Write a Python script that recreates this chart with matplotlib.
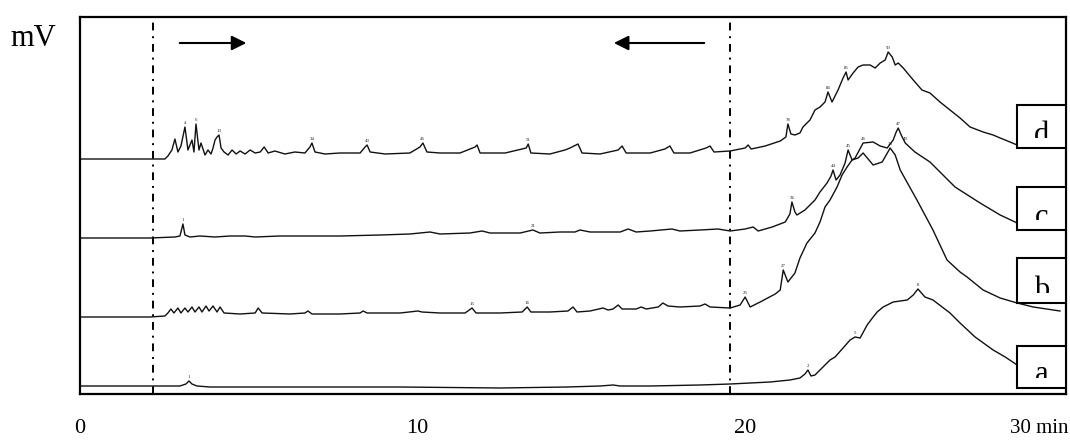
import matplotlib
matplotlib.use('Agg')
import matplotlib.pyplot as plt
from matplotlib.patches import Rectangle

plt.rcParams['font.family'] = ['Liberation Serif', 'DejaVu Serif']

# retention time (min) / detector signal (mV, arbitrary offset per trace)
d_time = [0, 1.20, 2.54, 2.63, 2.75, 2.84, 2.93, 3.02, 3.14, 3.23, 3.35, 3.41, 3.47, 3.56, 3.62,
          3.74, 3.83, 3.92, 3.98, 4.04, 4.10, 4.16, 4.22, 4.31, 4.43, 4.55, 4.67, 4.79, 4.94, 5.09,
          5.24, 5.39, 5.51, 5.63, 5.83, 6.13, 6.43, 6.73, 6.88, 6.94, 7.03, 7.33, 7.78, 8.38, 8.53,
          8.59, 8.68, 9.13, 9.87, 10.17, 10.26, 10.38, 10.77, 11.37, 11.82, 11.88, 11.97, 12.72,
          13.35, 13.41, 13.49, 14.06, 14.51, 14.66, 14.90, 15.02, 15.56, 16.10, 16.22, 16.34,
          17.06, 17.50, 17.65, 17.77, 18.25, 18.73, 18.85, 18.97, 19.45, 19.90, 19.99, 20.08,
          20.50, 20.95, 21.12, 21.18, 21.27, 21.39, 21.54, 21.63, 21.84, 21.99, 22.14, 22.29,
          22.38, 22.50, 22.68, 22.83, 22.92, 22.98, 23.13, 23.28, 23.43, 23.64, 23.79, 23.94,
          24.09, 24.18, 24.30, 24.39, 24.48, 24.63, 24.93, 25.19, 25.43, 25.73, 26.03, 26.33,
          26.63, 27.02, 27.32, 27.53, 27.68, 28.04]
d_signal = [235, 235, 235, 238, 244, 255, 242, 248, 267, 244, 254, 242, 270, 244, 251,
            239, 244, 240, 246, 254, 257, 259, 246, 242, 239, 244, 240, 243, 240, 244,
            241, 242, 247, 241, 243, 240, 242, 241, 247, 251, 242, 240, 241, 241, 247,
            249, 242, 240, 241, 247, 251, 242, 241, 241, 247, 249, 241, 241,
            246, 250, 241, 240, 244, 246, 250, 241, 240, 244, 248, 241,
            241, 245, 248, 241, 241, 246, 248, 242, 243, 246, 249, 245,
            248, 253, 257, 270, 260, 259, 261, 267, 274, 284, 287, 292,
            302, 292, 304, 316, 322, 314, 321, 327, 329, 329, 326, 331,
            334, 342, 337, 329, 331, 326, 314, 304, 301, 292, 284, 276,
            267, 262, 259, 256, 254, 249]

c_time = [0, 2.09, 2.84, 2.99, 3.08, 3.14, 3.29, 3.59, 4.04, 4.49, 4.94, 5.24, 5.98, 6.58, 7.18,
          7.78, 8.98, 9.87, 10.47, 10.77, 11.67, 12.03, 12.27, 13.17, 13.55, 13.76, 14.36, 14.81,
          14.96, 15.26, 16.16, 16.40, 16.64, 17.06, 17.71, 17.95, 18.55, 19.09, 19.45, 19.90,
          20.14, 20.29, 20.71, 21.10, 21.24, 21.30, 21.39, 21.45, 21.69, 21.99, 22.14, 22.35,
          22.47, 22.53, 22.62, 22.74, 22.89, 22.98, 23.10, 23.19, 23.43, 23.73, 23.94, 24.15,
          24.33, 24.42, 24.48, 24.57, 24.69, 24.98, 25.43, 25.73, 26.18, 26.93, 27.53, 28.04]
c_signal = [156, 156, 157, 158, 170, 159, 157, 158, 157, 158, 158, 157, 158, 158, 158,
            158, 159, 160, 162, 160, 161, 163, 161, 161, 164, 161, 162, 162,
            164, 162, 162, 165, 162, 163, 165, 163, 164, 165, 163, 165,
            167, 163, 167, 172, 180, 192, 182, 179, 184, 194, 202, 211,
            218, 224, 214, 219, 231, 244, 234, 236, 251, 252, 248, 246,
            254, 262, 266, 259, 251, 242, 232, 222, 207, 191, 179, 171]

b_time = [0, 2.09, 2.54, 2.63, 2.72, 2.81, 2.93, 3.02, 3.14, 3.23, 3.35, 3.44, 3.56, 3.65, 3.77,
          3.86, 3.98, 4.10, 4.19, 4.31, 4.79, 5.24, 5.33, 5.45, 6.28, 6.73, 6.82, 6.94, 7.78,
          8.38, 8.47, 8.59, 9.58, 10.11, 10.23, 10.77, 11.52, 11.73, 11.85, 12.57, 13.23, 13.38,
          13.49, 14.06, 14.60, 14.75, 14.87, 15.26, 15.65, 15.80, 15.95, 16.10, 16.22, 16.64,
          16.79, 16.94, 17.30, 17.44, 17.59, 17.95, 18.55, 18.70, 18.85, 19.45, 19.75, 19.90,
          20.05, 20.35, 20.80, 20.95, 21.04, 21.18, 21.39, 21.54, 21.75, 21.99, 22.14, 22.29,
          22.44, 22.65, 22.80, 22.95, 23.10, 23.28, 23.43, 23.73, 24.00, 24.24, 24.39, 24.54,
          25.04, 25.52, 25.94, 26.33, 26.54, 27.02, 27.53, 28.04, 28.52, 29.32]
b_signal = [77, 77, 78, 81, 85, 81, 86, 81, 86, 82, 87, 82, 87, 82, 88,
            83, 88, 82, 87, 81, 80, 81, 86, 81, 80, 81, 83, 80, 80,
            81, 83, 81, 81, 83, 82, 81, 81, 86, 81, 81, 82, 87,
            82, 82, 83, 87, 82, 83, 86, 84, 85, 89, 85, 85,
            87, 85, 87, 91, 88, 87, 88, 90, 87, 86, 89, 97,
            87, 92, 100, 104, 124, 112, 121, 136, 151, 161, 172, 187,
            194, 207, 219, 227, 234, 236, 241, 229, 232, 246, 239, 224,
            194, 164, 134, 122, 117, 104, 96, 91, 87, 83]

a_time = [0, 2.18, 2.99, 3.17, 3.26, 3.35, 3.50, 3.89, 6.58, 9.58, 12.57, 14.57, 15.56, 15.95,
          16.16, 17.06, 18.55, 19.45, 20.65, 21.24, 21.54, 21.69, 21.78, 21.87, 21.99, 22.29,
          22.44, 22.59, 22.83, 23.04, 23.19, 23.34, 23.55, 23.73, 23.85, 24.03, 24.33, 24.75,
          24.93, 25.07, 25.28, 25.52, 26.03, 26.33, 26.78, 27.32, 27.68, 28.04]
a_signal = [8, 8, 8, 10, 13, 10, 8, 7, 7, 7, 6, 7, 8, 9,
            8, 8, 9, 10, 12, 14, 16, 20, 24, 18, 19, 29,
            34, 37, 46, 54, 57, 56, 69, 77, 82, 87, 92, 94,
            99, 105, 97, 94, 81, 71, 57, 44, 37, 29]

# numbered peaks printed on the original traces
d_peaks = [(3.14, '4'), (3.47, '6'), (4.16, '13'), (6.94, '34'), (8.59, '40'), (10.26, '46'),
           (13.41, '51'), (21.18, '78'), (22.38, '84'), (22.92, '85'), (24.18, '90')]
c_peaks = [(3.08, '1'), (13.55, '21'), (21.30, '36'), (22.53, '44'), (22.98, '45'),
           (23.43, '46'), (24.48, '47'), (24.69, '49')]
b_peaks = [(11.73, '15'), (13.38, '16'), (19.90, '25'), (21.04, '27'), (24.24, '33')]
a_peaks = [(3.26, '1'), (21.78, '2'), (23.19, '5'), (25.07, '8')]

trace_names = ['d', 'c', 'b', 'a']
tick_pos = [0, 10.1, 19.9, 28.7]
tick_labels = ['0', '10', '20', '30 min']

fig = plt.figure(figsize=(10.7, 4.42), dpi=100)
ax = fig.add_axes([80 / 1070, 48 / 442, 986 / 1070, 377 / 442])
ax.set_xlim(0, 29.5)
ax.set_ylim(0, 377)

traces = [(d_time, d_signal, d_peaks), (c_time, c_signal, c_peaks),
          (b_time, b_signal, b_peaks), (a_time, a_signal, a_peaks)]
for t, s, peaks in traces:
    ax.plot(t, s, color='#111111', lw=1.0, zorder=2)
    for pt, lab in peaks:
        # signal at the labelled peak
        i = min(range(len(t)), key=lambda k: abs(t[k] - pt))
        ax.text(pt, s[i] + 2, lab, fontsize=3.5, ha='center', va='bottom', color='#222222')

# dash-dot collection window
for xv in [2.18, 19.45]:
    ax.axvline(xv, color='black', lw=1.4, linestyle=(0, (4, 3, 1, 3)), zorder=1)

ax.annotate('', xy=(5.06, 351), xytext=(2.90, 351),
            arrowprops=dict(arrowstyle='-|>', color='black', lw=1.5, mutation_scale=22))
ax.annotate('', xy=(15.89, 351), xytext=(18.76, 351),
            arrowprops=dict(arrowstyle='-|>', color='black', lw=1.5, mutation_scale=22))

# trace label boxes on the right; the letters are cut off low inside the box
box_x0 = 28.04
box_bottoms = [246, 164, 91, 6]
box_h = [43, 43, 45, 42]
for name, yb, h in zip(trace_names, box_bottoms, box_h):
    rect = Rectangle((box_x0, yb), 29.5 - box_x0, h, facecolor='white', edgecolor='black',
                     lw=1.5, zorder=4)
    ax.add_patch(rect)
    clip = Rectangle((box_x0, yb + 10), 29.5 - box_x0, h - 10, facecolor='none',
                     edgecolor='none', lw=0)
    ax.add_patch(clip)
    txt = ax.text((box_x0 + 29.5) / 2, yb + 5.5, name, fontsize=22, ha='center',
                  va='baseline', zorder=5)
    txt.set_clip_path(clip)
    txt.set_clip_on(True)

ax.set_xticks(tick_pos)
ax.set_xticklabels(tick_labels, fontsize=16)
ax.get_xticklabels()[3].set_fontsize(15)
ax.tick_params(axis='x', length=0, pad=18)
ax.set_yticks([])
for sp in ax.spines.values():
    sp.set_linewidth(1.6)
    sp.set_color('black')

fig.text(10 / 1070, 1 - 38 / 442, 'mV', fontsize=22, ha='left', va='center')

fig.savefig('out.png', dpi=100, facecolor='white')
